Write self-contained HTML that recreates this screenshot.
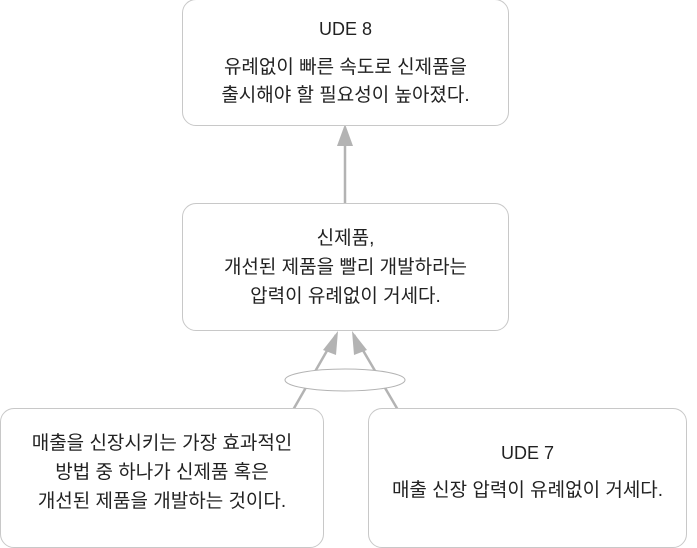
<!DOCTYPE html>
<html><head><meta charset="utf-8"><style>
body{margin:0;width:697px;height:536px;background:#fff;overflow:hidden;position:relative;font-family:"Liberation Sans","Noto Sans CJK KR",sans-serif;color:#222}
.b{position:absolute;border:1px solid #c8c8c8;border-radius:14px;box-sizing:border-box;display:flex;flex-direction:column;justify-content:center;align-items:center;text-align:center;font-size:19px;line-height:29px;background:#fff}
svg{position:absolute;left:0;top:0}
</style></head><body>
<svg width="697" height="536">
<g stroke="#b3b3b3" stroke-width="2.5" fill="none">
<line x1="345" y1="203" x2="345" y2="135"/>
<line x1="293" y1="410" x2="336" y2="335"/>
<line x1="398" y1="410" x2="354" y2="335"/>
</g>
<polygon points="345,124 337,146 353,146" fill="#b3b3b3"/>
<polygon points="338,331 323,350 336,355" fill="#b3b3b3"/>
<polygon points="352,331 354,355 367,350" fill="#b3b3b3"/>
<ellipse cx="345" cy="380" rx="60" ry="11" fill="#fff" stroke="#b3b3b3" stroke-width="1"/>
</svg>
<div class="b" style="left:182px;top:-1px;width:327px;height:127px"><div style="font-size:18px;margin-bottom:10px">UDE 8</div><div style="line-height:28px">유례없이 빠른 속도로 신제품을<br>출시해야 할 필요성이 높아졌다.</div></div>
<div class="b" style="left:182px;top:203px;width:327px;height:128px"><div>신제품,<br>개선된 제품을 빨리 개발하라는<br>압력이 유례없이 거세다.</div></div>
<div class="b" style="left:0px;top:408px;width:324px;height:140px;padding-bottom:12px"><div>매출을 신장시키는 가장 효과적인<br>방법 중 하나가 신제품 혹은<br>개선된 제품을 개발하는 것이다.</div></div>
<div class="b" style="left:368px;top:408px;width:319px;height:140px;padding-bottom:12px"><div style="font-size:18px;margin-bottom:8px">UDE 7</div><div>매출 신장 압력이 유례없이 거세다.</div></div>
</body></html>
